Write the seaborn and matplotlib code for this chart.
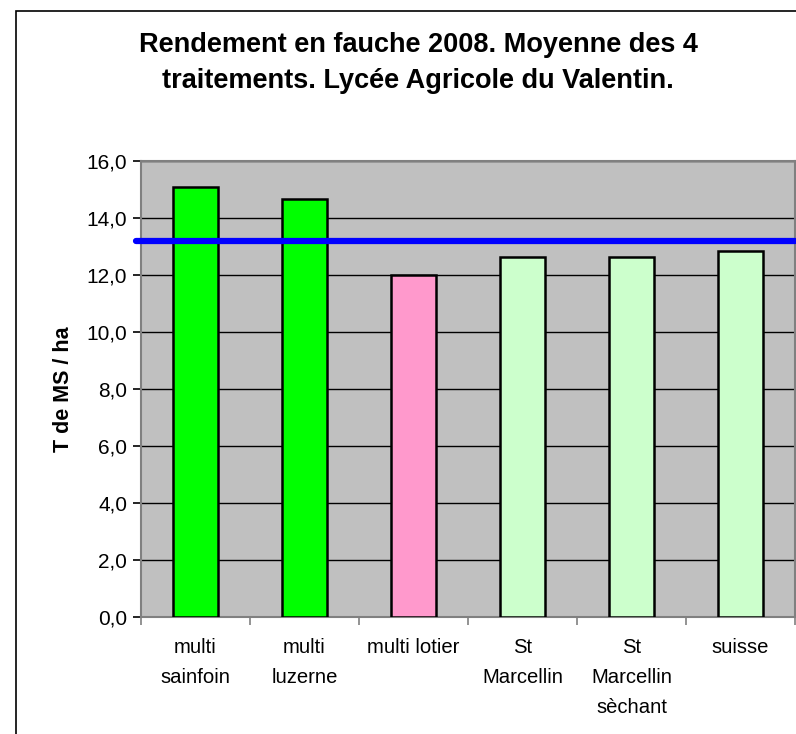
import matplotlib
matplotlib.use('Agg')
import matplotlib.pyplot as plt
import matplotlib.patches as mpatches
import seaborn as sns
import pandas as pd
from matplotlib.ticker import FuncFormatter

# Data
categories = ['multi\nsainfoin', 'multi\nluzerne', 'multi lotier', 'St\nMarcellin',
              'St\nMarcellin\nsèchant', 'suisse']
rendement = [15.08, 14.65, 11.99, 12.62, 12.62, 12.84]
bar_colors = ['#00FF00', '#00FF00', '#FF99CC', '#CCFFCC', '#CCFFCC', '#CCFFCC']
moyenne = 13.19

df = pd.DataFrame({'variete': categories, 'rendement': rendement})

sns.set_theme(style='white')
plt.rcParams['font.family'] = ['Liberation Sans', 'DejaVu Sans']
plt.rcParams['text.color'] = 'black'
plt.rcParams['axes.labelcolor'] = 'black'
plt.rcParams['xtick.color'] = 'black'
plt.rcParams['ytick.color'] = 'black'

fig = plt.figure(figsize=(7.96, 7.34), dpi=100)
ax = fig.add_axes([141 / 796, 1 - 617 / 734, 654 / 796, 456 / 734])

# Outer chart frame (only left and top visible in the crop)
fig.patches.append(mpatches.Rectangle((16 / 796, -0.5), 2, 1.5 - 11 / 734,
                                      transform=fig.transFigure, fill=False,
                                      edgecolor='black', linewidth=1.2))

sns.barplot(data=df, x='variete', y='rendement', hue='variete', palette=bar_colors,
            saturation=1, legend=False, width=0.42, edgecolor='black', linewidth=1.8,
            ax=ax, zorder=3)

ax.set_facecolor('#C0C0C0')
ax.set_ylim(0, 16)
ax.set_xlim(-0.5, len(categories) - 0.5)
ax.set_yticks(range(0, 17, 2))
ax.yaxis.set_major_formatter(FuncFormatter(lambda v, p: f'{v:.1f}'.replace('.', ',')))
ax.grid(axis='y', color='black', linewidth=1, zorder=1)
ax.set_axisbelow(True)

# Mean line
ax.axhline(moyenne, color='#0000FF', linewidth=4.5, zorder=4, xmin=-0.007, clip_on=False)

for s in ax.spines.values():
    s.set_color('#808080')
    s.set_linewidth(1.5)

# ticks at category boundaries on x
ax.set_xticks([i + 0.5 for i in range(-1, len(categories))], minor=True)
ax.tick_params(axis='x', which='minor', length=6, width=1.2, color='#808080', bottom=True)
ax.tick_params(axis='x', which='major', length=0, labelsize=14.6, pad=15)
ax.tick_params(axis='y', length=6, width=1.2, color='black', left=True, labelsize=15, pad=4)
for lab in ax.get_xticklabels():
    lab.set_linespacing(1.75)

ax.set_xlabel('')
ax.set_ylabel('T de MS / ha', fontsize=15.5, fontweight='bold')
ax.yaxis.set_label_coords(-0.103, 0.5)

fig.text(418 / 796, 1 - 63 / 734,
         'Rendement en fauche 2008. Moyenne des 4\ntraitements. Lycée Agricole du Valentin.',
         ha='center', va='center', fontsize=19.5, fontweight='bold', linespacing=1.5)

fig.savefig('out.png', dpi=100)
